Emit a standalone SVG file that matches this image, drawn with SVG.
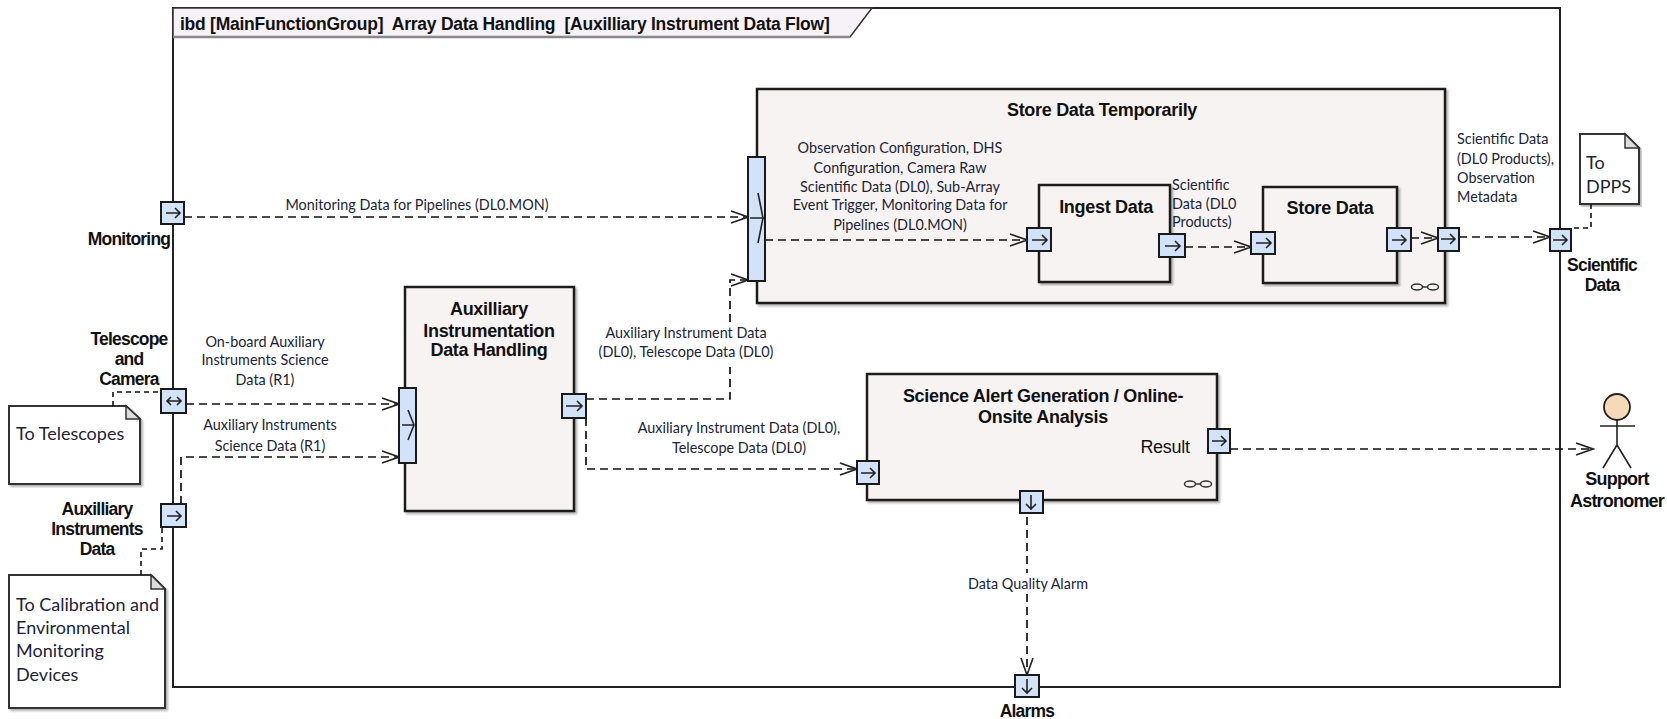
<svg xmlns="http://www.w3.org/2000/svg" width="1667" height="719" viewBox="0 0 1667 719">
<style>
.b{fill:#f7f3f3;stroke:#1a1a1a;stroke-width:2.5}
.p{fill:#d2e2f8;stroke:#1a1a1a;stroke-width:2}
.g{fill:none;stroke:#222;stroke-width:1.6}
.n{fill:#fff;stroke:#333;stroke-width:2}
.c{fill:none;stroke:#111;stroke-width:1.7;stroke-dasharray:8 5}
.d{fill:none;stroke:#111;stroke-width:1.6;stroke-dasharray:5 4}
.t{font-family:"Liberation Sans",Arial,sans-serif;font-weight:700;font-size:18px;fill:#111;letter-spacing:-.3px;text-anchor:middle}
.e{font-family:"Liberation Sans",Arial,sans-serif;font-size:17.5px;font-weight:700;fill:#111;letter-spacing:-.8px;text-anchor:middle}
.l{font-family:Lato,"Noto Sans",sans-serif;font-size:14.4px;fill:#1c2438;text-anchor:middle}
.ls{text-anchor:start}
.m{font-family:Lato,"Noto Sans",sans-serif;font-size:18px;fill:#1c2438}
</style>
<defs>
<marker id="a" markerUnits="userSpaceOnUse" markerWidth="20" markerHeight="16" refX="18" refY="8" orient="auto"><path d="M1 2L18 8L1 14" fill="none" stroke="#222" stroke-width="1.6"/></marker>
<filter id="s" x="-3%" y="-3%" width="107%" height="107%"><feDropShadow dx="2" dy="2" stdDeviation="1.2" flood-color="#000" flood-opacity=".3"/></filter>
<g id="inf"><ellipse cx="-8" cy="0" rx="5.5" ry="3" fill="none" stroke="#333" stroke-width="1.5"/><ellipse cx="8" cy="0" rx="5.5" ry="3" fill="none" stroke="#333" stroke-width="1.5"/><path d="M-2.5 0H2.5" stroke="#333" stroke-width="1.5"/></g>
</defs>
<g id="frame">
<rect x="173" y="8" width="1387" height="679" fill="#fff" stroke="#222" stroke-width="2"/>
<path d="M173 8H872L850 37H173Z" fill="#f6f2f8" stroke="#333" stroke-width="1.5"/>
<path d="M173 37H850" stroke="#888" stroke-width="2.5"/>
<text x="180" y="30" style="font-family:'Liberation Sans',Arial,sans-serif;font-weight:700;font-size:17.5px;fill:#111;letter-spacing:-.25px;white-space:pre">ibd [MainFunctionGroup]  Array Data Handling  [Auxilliary Instrument Data Flow]</text>
</g>
<g id="store-temp">
<rect class="b" x="757" y="89" width="688" height="214" filter="url(#s)"/>
<text class="t" x="1102" y="116">Store Data Temporarily</text>
<use href="#inf" x="1425" y="287"/>
</g>
<g id="ingest">
<rect class="b" x="1039" y="185" width="131" height="97" filter="url(#s)"/>
<text class="t" x="1106" y="213">Ingest Data</text>
</g>
<g id="store">
<rect class="b" x="1263" y="187" width="134" height="96" filter="url(#s)"/>
<text class="t" x="1330" y="214">Store Data</text>
</g>
<g id="aux">
<rect class="b" x="405" y="287" width="169" height="224" filter="url(#s)"/>
<text class="t" x="489" y="315">Auxilliary</text>
<text class="t" x="489" y="337">Instrumentation</text>
<text class="t" x="489" y="356">Data Handling</text>
</g>
<g id="science">
<rect class="b" x="867" y="374" width="350" height="126" filter="url(#s)"/>
<text class="t" x="1043" y="402">Science Alert Generation / Online-</text>
<text class="t" x="1043" y="423">Onsite Analysis</text>
<text class="t" x="1165" y="453" style="font-weight:400">Result</text>
<use href="#inf" x="1198" y="484"/>
</g>
<g id="note-telescopes">
<path class="n" d="M9 406H126L140 419V484H9Z" filter="url(#s)"/>
<path d="M126 406V419H140Z" fill="#ddd" stroke="#333" stroke-width="1.5"/>
<text class="m" x="16" y="440">To Telescopes</text>
</g>
<g id="note-calibration">
<path class="n" d="M9 575H151L165 589V708H9Z" filter="url(#s)"/>
<path d="M151 575V589H165Z" fill="#ddd" stroke="#333" stroke-width="1.5"/>
<text class="m" x="16" y="611">To Calibration and</text>
<text class="m" x="16" y="634">Environmental</text>
<text class="m" x="16" y="657">Monitoring</text>
<text class="m" x="16" y="681">Devices</text>
</g>
<g id="note-dpps">
<path class="n" d="M1580 134H1625L1639 148V204H1580Z" filter="url(#s)"/>
<path d="M1625 134V148H1639Z" fill="#ddd" stroke="#333" stroke-width="1.5"/>
<text class="m" x="1586" y="169">To</text>
<text class="m" x="1586" y="193">DPPS</text>
</g>
<g id="actor">
<circle cx="1617" cy="407" r="13" fill="#f5d9b8" stroke="#222" stroke-width="1.8"/>
<path class="g" d="M1600 426H1635M1617 420V445L1603 468M1617 445L1631 468"/>
<text class="e" x="1617" y="485" style="font-size:18px">Support</text>
<text class="e" x="1617" y="507" style="font-size:18px">Astronomer</text>
</g>
<g id="connectors">
<path class="c" d="M184 217H748" marker-end="url(#a)"/>
<path class="c" d="M765 240H1027" marker-end="url(#a)"/>
<path class="c" d="M1185 247H1251" marker-end="url(#a)"/>
<path class="c" d="M1411 238H1438" marker-end="url(#a)"/>
<path class="c" d="M1459 237H1550" marker-end="url(#a)"/>
<path class="c" d="M186 404H399" marker-end="url(#a)"/>
<path class="c" d="M181 504V457H399" marker-end="url(#a)"/>
<path class="c" d="M586 399H730V367M730 322V280H748" marker-end="url(#a)"/>
<path class="c" d="M586 418V469H857" marker-end="url(#a)"/>
<path class="c" d="M1230 449H1593" marker-end="url(#a)"/>
<path class="c" d="M1027 517V573M1027 594V675" marker-end="url(#a)"/>
<path class="d" d="M113 406V392H161"/>
<path class="d" d="M141 575V549H162V527"/>
<path class="d" d="M1591 204V228H1571"/>
</g>
<g id="ports">
<g id="port-monitoring"><rect class="p" x="161" y="202" width="23" height="22"/><path class="g" d="M166 213H180M175 208L180 213L175 218"/></g>
<g id="port-tc"><rect class="p" x="161" y="389" width="25" height="24"/><path class="g" d="M167 401H181M171 397L167 401L171 405M177 397L181 401L177 405"/></g>
<g id="port-aux-in"><rect class="p" x="161" y="504" width="25" height="23"/><path class="g" d="M167 516H181M176 511L181 516L176 521"/></g>
<g id="port-aux-left"><rect class="p" x="399" y="388" width="17" height="75"/><path class="g" d="M402 425H414M408 410L414 425L408 440"/></g>
<g id="port-aux-out"><rect class="p" x="562" y="394" width="24" height="24"/><path class="g" d="M566 406H582M577 401L582 406L577 411"/></g>
<g id="port-store-left"><rect class="p" x="748" y="157" width="17" height="124"/><path class="g" d="M750 218H764M758 193L763 218L758 243"/></g>
<g id="port-ingest-in"><rect class="p" x="1027" y="228" width="24" height="23"/><path class="g" d="M1032 240H1047M1042 235L1047 240L1042 245"/></g>
<g id="port-ingest-out"><rect class="p" x="1159" y="234" width="26" height="23"/><path class="g" d="M1165 246H1180M1175 241L1180 246L1175 251"/></g>
<g id="port-store-in"><rect class="p" x="1251" y="232" width="24" height="22"/><path class="g" d="M1256 243H1271M1266 238L1271 243L1266 248"/></g>
<g id="port-store-out"><rect class="p" x="1387" y="228" width="24" height="23"/><path class="g" d="M1392 240H1406M1401 235L1406 240L1401 245"/></g>
<g id="port-temp-out"><rect class="p" x="1438" y="228" width="21" height="23"/><path class="g" d="M1441 239H1455M1450 234L1455 239L1450 244"/></g>
<g id="port-sci"><rect class="p" x="1550" y="229" width="21" height="22"/><path class="g" d="M1553 240H1567M1562 235L1567 240L1562 245"/></g>
<g id="port-sci-in"><rect class="p" x="857" y="461" width="22" height="23"/><path class="g" d="M861 473H875M870 468L875 473L870 478"/></g>
<g id="port-result"><rect class="p" x="1208" y="429" width="22" height="24"/><path class="g" d="M1212 441H1226M1221 436L1226 441L1221 446"/></g>
<g id="port-dq"><rect class="p" x="1020" y="491" width="23" height="22"/><path class="g" d="M1031 495V509M1026 504L1031 509L1036 504"/></g>
<g id="port-alarms"><rect class="p" x="1015" y="675" width="24" height="22"/><path class="g" d="M1027 679V693M1022 688L1027 693L1032 688"/></g>
</g>
<g id="labels">
<text class="e" x="129" y="245">Monitoring</text>
<text class="e" x="129" y="345">Telescope</text>
<text class="e" x="129" y="365">and</text>
<text class="e" x="129" y="385">Camera</text>
<text class="e" x="97" y="515">Auxilliary</text>
<text class="e" x="97" y="535">Instruments</text>
<text class="e" x="97" y="555">Data</text>
<text class="e" x="1602" y="271">Scientific</text>
<text class="e" x="1602" y="291">Data</text>
<text class="e" x="1027" y="717">Alarms</text>
<text class="l" x="417" y="210">Monitoring Data for Pipelines (DL0.MON)</text>
<text class="l" x="265" y="347">On-board Auxiliary</text>
<text class="l" x="265" y="365">Instruments Science</text>
<text class="l" x="265" y="385">Data (R1)</text>
<text class="l" x="270" y="430">Auxiliary Instruments</text>
<text class="l" x="270" y="451">Science Data (R1)</text>
<text class="l" x="686" y="338">Auxiliary Instrument Data</text>
<text class="l" x="686" y="357">(DL0), Telescope Data (DL0)</text>
<text class="l" x="739" y="433">Auxiliary Instrument Data (DL0),</text>
<text class="l" x="739" y="453">Telescope Data (DL0)</text>
<text class="l" x="900" y="153">Observation Configuration, DHS</text>
<text class="l" x="900" y="173">Configuration, Camera Raw</text>
<text class="l" x="900" y="192">Scientific Data (DL0), Sub-Array</text>
<text class="l" x="900" y="210">Event Trigger, Monitoring Data for</text>
<text class="l" x="900" y="230">Pipelines (DL0.MON)</text>
<text class="l ls" x="1172" y="190">Scientific</text>
<text class="l ls" x="1172" y="209">Data (DL0</text>
<text class="l ls" x="1172" y="227">Products)</text>
<text class="l ls" x="1457" y="144">Scientific Data</text>
<text class="l ls" x="1457" y="164">(DL0 Products),</text>
<text class="l ls" x="1457" y="183">Observation</text>
<text class="l ls" x="1457" y="202">Metadata</text>
<text class="l" x="1028" y="589">Data Quality Alarm</text>
</g>
</svg>
